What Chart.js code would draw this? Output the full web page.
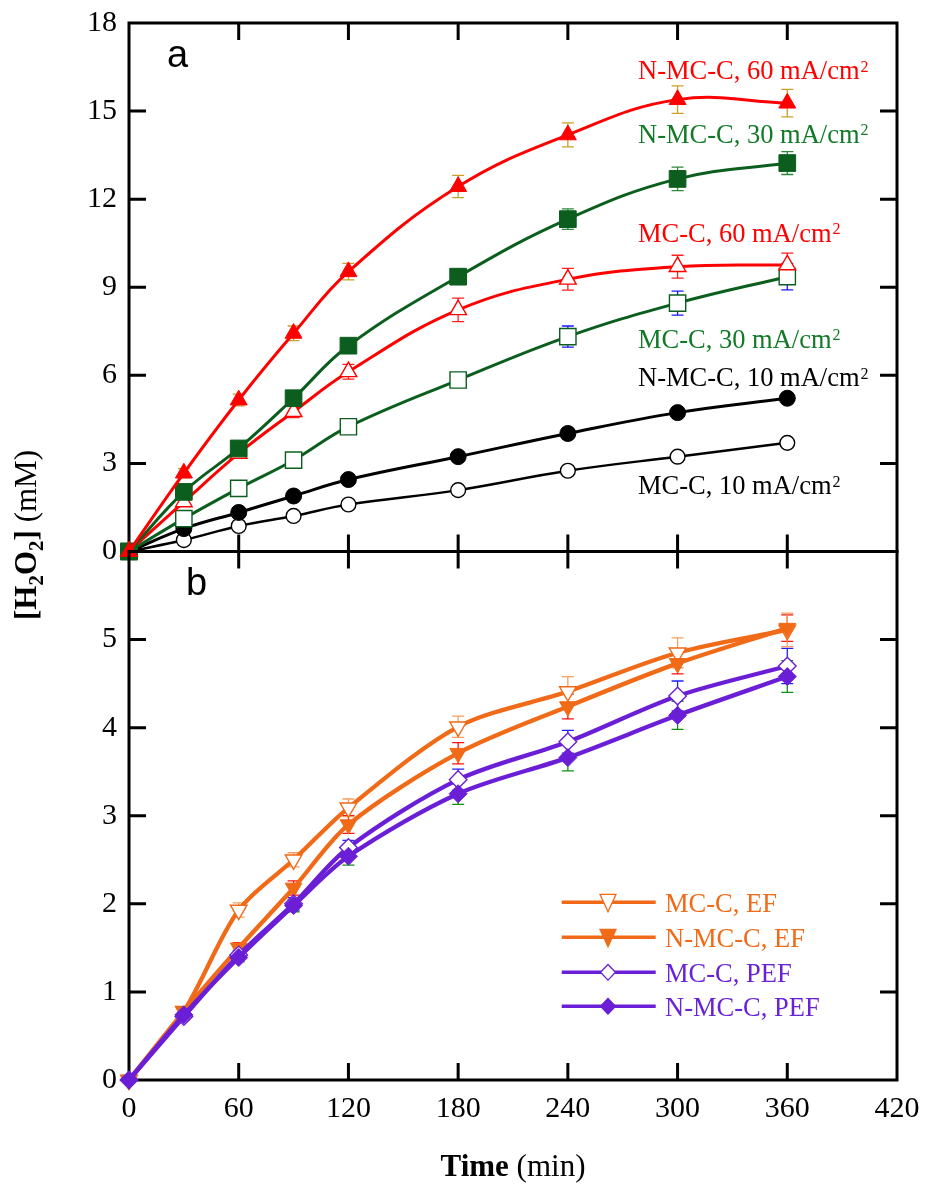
<!DOCTYPE html>
<html><head><meta charset="utf-8">
<script src="https://cdn.jsdelivr.net/npm/chart.js@4.4.0/dist/chart.umd.min.js"></script>
<style>
html,body{margin:0;padding:0;background:#fff;}
#wrap{position:relative;width:925px;height:1188px;background:#fff;}
canvas{position:absolute;left:0;top:0;}
</style></head><body>
<div id="wrap"><canvas id="ca" width="925" height="1188"></canvas><canvas id="cb" width="925" height="1188"></canvas></div>
<script>
// ---------- data ----------
const times = [0, 30, 60, 90, 120, 180, 240, 300, 360];
const xTickValues = [0, 60, 120, 180, 240, 300, 360, 420];
const yTicksA = [0, 3, 6, 9, 12, 15, 18];
const yTicksB = [0, 1, 2, 3, 4, 5];

// panel a  [H2O2] (mM)
const nmcc60 = [0, 2.67, 5.16, 7.43, 9.53, 12.43, 14.19, 15.39, 15.27];
const nmcc30 = [0, 2.03, 3.51, 5.22, 7.01, 9.36, 11.32, 12.69, 13.23];
const mcc60  = [0, 1.69, 3.34, 4.76, 6.12, 8.23, 9.27, 9.70, 9.76];
const mcc30  = [0, 1.12, 2.15, 3.11, 4.25, 5.84, 7.32, 8.46, 9.36];
const nmcc10 = [0, 0.78, 1.33, 1.89, 2.45, 3.23, 4.02, 4.73, 5.22];
const mcc10  = [0, 0.39, 0.87, 1.21, 1.60, 2.09, 2.75, 3.23, 3.70];
const errNmcc60 = [0, 0.15, 0.2, 0.25, 0.28, 0.38, 0.41, 0.47, 0.47];
const errNmcc30 = [0, 0.1, 0.1, 0.15, 0.15, 0.25, 0.35, 0.4, 0.39];
const errMcc60  = [0, 0.1, 0.15, 0.2, 0.25, 0.4, 0.37, 0.39, 0.4];
const errMcc30  = [0, 0.05, 0.1, 0.1, 0.12, 0.15, 0.36, 0.41, 0.45];
const errNmcc10 = [0, 0.05, 0.05, 0.05, 0.05, 0.08, 0.1, 0.1, 0.12];
const errMcc10  = [0, 0.03, 0.03, 0.03, 0.03, 0.05, 0.05, 0.06, 0.06];

// panel b
const mccEF   = [0, 0.78, 1.93, 2.50, 3.09, 4.01, 4.41, 4.85, 5.11];
const nmccEF  = [0, 0.78, 1.50, 2.18, 2.90, 3.71, 4.24, 4.73, 5.13];
const mccPEF  = [0, 0.72, 1.42, 2.00, 2.64, 3.41, 3.84, 4.36, 4.70];
const nmccPEF = [0, 0.74, 1.39, 1.98, 2.54, 3.25, 3.66, 4.14, 4.58];
const errMccEF   = [0, 0.05, 0.08, 0.08, 0.1, 0.12, 0.17, 0.17, 0.19];
const errNmccEF  = [0, 0.05, 0.06, 0.08, 0.1, 0.12, 0.14, 0.12, 0.15];
const errMccPEF  = [0, 0.04, 0.05, 0.07, 0.08, 0.12, 0.13, 0.17, 0.2];
const errNmccPEF = [0, 0.04, 0.05, 0.07, 0.1, 0.12, 0.15, 0.16, 0.18];

const labelsA = ['N-MC-C, 60 mA/cm', 'N-MC-C, 30 mA/cm', 'MC-C, 60 mA/cm', 'MC-C, 30 mA/cm', 'N-MC-C, 10 mA/cm', 'MC-C, 10 mA/cm'];
const labelsB = ['MC-C, EF', 'N-MC-C, EF', 'MC-C, PEF', 'N-MC-C, PEF'];

// ---------- styling / layout ----------
const RED = '#ff0000', GREEN = '#0b5e1e', BLACK = '#000000', ORANGE = '#f06a17', PURPLE = '#6a1fd6';
const SERIF = "'Liberation Serif', 'Times New Roman', serif";
const SANS = "'Liberation Sans', Arial, sans-serif";
const L = 129, R = 897, TOP_A = 23, MID = 551.5, BOT_B = 1080, W = 925, H = 1188;

function ds(label, vals, errs, color, errColor, style, filled, radius, lw, rot, tension) {
  return {
    label, data: times.map((t, i) => ({x: t, y: vals[i]})),
    errs, errColor,
    borderColor: color, backgroundColor: color, borderWidth: lw,
    pointStyle: style, pointRadius: radius, pointHoverRadius: radius,
    pointBackgroundColor: filled ? color : '#ffffff', pointBorderColor: color,
    pointBorderWidth: filled ? 1 : 1.4, pointRotation: rot || 0,
    tension: tension, clip: false, fill: false
  };
}

function noPad(s) { s.paddingTop = 0; s.paddingBottom = 0; s.paddingLeft = 0; s.paddingRight = 0; }

function drawFrame(chart) {
  const ctx = chart.ctx, a = chart.chartArea, xs = chart.scales.x, ys = chart.scales.y;
  ctx.save();
  ctx.strokeStyle = '#000'; ctx.lineWidth = 3; ctx.lineCap = 'butt';
  ctx.strokeRect(a.left, a.top, a.right - a.left, a.bottom - a.top);
  ctx.beginPath();
  xTickValues.forEach(v => {
    if (v <= xs.min || v >= xs.max) return;
    const p = xs.getPixelForValue(v);
    ctx.moveTo(p, a.top); ctx.lineTo(p, a.top + 17);
    ctx.moveTo(p, a.bottom); ctx.lineTo(p, a.bottom - 17);
  });
  ys.ticks.forEach(t => {
    if (t.value <= ys.min || t.value >= ys.max) return;
    const p = ys.getPixelForValue(t.value);
    ctx.moveTo(a.left, p); ctx.lineTo(a.left + 17, p);
    ctx.moveTo(a.right, p); ctx.lineTo(a.right - 17, p);
  });
  ctx.stroke();
  ctx.restore();
}

function drawErrors(chart) {
  const ctx = chart.ctx, xs = chart.scales.x, ys = chart.scales.y;
  ctx.save(); ctx.lineWidth = 1.3;
  chart.data.datasets.forEach(d => {
    if (!d.errs) return;
    ctx.strokeStyle = d.errColor;
    ctx.beginPath();
    d.data.forEach((pt, i) => {
      const e = d.errs[i]; if (!e) return;
      const px = xs.getPixelForValue(pt.x);
      const y1 = ys.getPixelForValue(pt.y + e), y2 = ys.getPixelForValue(pt.y - e);
      ctx.moveTo(px, y1); ctx.lineTo(px, y2);
      ctx.moveTo(px - 6, y1); ctx.lineTo(px + 6, y1);
      ctx.moveTo(px - 6, y2); ctx.lineTo(px + 6, y2);
    });
    ctx.stroke();
  });
  ctx.restore();
}

const decoA = {
  id: 'decoA',
  beforeDatasetsDraw(chart) { drawFrame(chart); drawErrors(chart); },
  afterDatasetsDraw(chart) {
    const ctx = chart.ctx;
    ctx.save();
    ctx.textBaseline = 'alphabetic'; ctx.textAlign = 'left';
    ctx.font = '38px ' + SANS; ctx.fillStyle = '#000';
    ctx.fillText('a', 167, 67);
    const notes = [
      [labelsA[0], RED, 638, 79],
      [labelsA[1], '#127a27', 638, 142.7],
      [labelsA[2], RED, 638, 241.7],
      [labelsA[3], '#127a27', 638, 347.7],
      [labelsA[4], '#000', 638, 386],
      [labelsA[5], '#000', 638, 494.3]
    ];
    notes.forEach(n => {
      ctx.fillStyle = n[1];
      ctx.font = '26.5px ' + SERIF;
      ctx.fillText(n[0], n[2], n[3]);
      const w = ctx.measureText(n[0]).width;
      ctx.font = '16px ' + SERIF;
      ctx.fillText('2', n[2] + w + 1, n[3] - 7.5);
    });
    ctx.restore();
  }
};

function legendMarker(ctx, kind, color, x, y) {
  ctx.save();
  ctx.lineWidth = 1.3; ctx.strokeStyle = color;
  ctx.fillStyle = (kind === 'triOpen' || kind === 'diaOpen') ? '#fff' : color;
  ctx.beginPath();
  if (kind.startsWith('tri')) {
    ctx.moveTo(x - 8, y - 8); ctx.lineTo(x + 8, y - 8); ctx.lineTo(x, y + 9.5); ctx.closePath();
  } else {
    ctx.moveTo(x, y - 7.8); ctx.lineTo(x + 7.5, y); ctx.lineTo(x, y + 7.8); ctx.lineTo(x - 7.5, y); ctx.closePath();
  }
  ctx.fill(); ctx.stroke();
  ctx.restore();
}

const decoB = {
  id: 'decoB',
  beforeDatasetsDraw(chart) { drawFrame(chart); drawErrors(chart); },
  afterDatasetsDraw(chart) {
    const ctx = chart.ctx, a = chart.chartArea;
    ctx.save();
    ctx.textBaseline = 'alphabetic'; ctx.textAlign = 'left';
    ctx.font = '38px ' + SANS; ctx.fillStyle = '#000';
    ctx.fillText('b', 186, 595);
    // legend
    const rows = [
      [labelsB[0], ORANGE, '#f06a17', 'triOpen', 902.3],
      [labelsB[1], ORANGE, '#f06a17', 'triFill', 937.3],
      [labelsB[2], PURPLE, '#6a22d6', 'diaOpen', 972.3],
      [labelsB[3], PURPLE, '#6a22d6', 'diaFill', 1006.3]
    ];
    ctx.font = '26.5px ' + SERIF;
    rows.forEach(r => {
      ctx.strokeStyle = r[1]; ctx.lineWidth = 3.5;
      ctx.beginPath(); ctx.moveTo(561.7, r[4]); ctx.lineTo(655.7, r[4]); ctx.stroke();
      legendMarker(ctx, r[3], r[1], 608, r[4]);
      ctx.fillStyle = r[2]; ctx.fillText(r[0], 665, r[4] + 9.4);
    });
    // y-axis title (rotated, mixed bold/normal with subscripts)
    const parts = [
      ['[H', 'bold 31px ' + SERIF, 0], ['2', 'bold 21px ' + SERIF, 7], ['O', 'bold 31px ' + SERIF, 0],
      ['2', 'bold 21px ' + SERIF, 7], [']', 'bold 31px ' + SERIF, 0], [' (mM)', '31px ' + SERIF, 0]
    ];
    let total = 0;
    parts.forEach(p => { ctx.font = p[1]; total += ctx.measureText(p[0]).width; });
    ctx.translate(36, 535); ctx.rotate(-Math.PI / 2);
    ctx.fillStyle = '#000';
    let cx = -total / 2;
    parts.forEach(p => { ctx.font = p[1]; ctx.fillText(p[0], cx, p[2]); cx += ctx.measureText(p[0]).width; });
    ctx.setTransform(1, 0, 0, 1, 0, 0);
    // x-axis title
    const xp = [['Time', 'bold 31px ' + SERIF], [' (min)', '31px ' + SERIF]];
    let tw = 0;
    xp.forEach(p => { ctx.font = p[1]; tw += ctx.measureText(p[0]).width; });
    let xx = (a.left + a.right) / 2 - tw / 2;
    xp.forEach(p => { ctx.font = p[1]; ctx.fillText(p[0], xx, 1176); xx += ctx.measureText(p[0]).width; });
    ctx.restore();
  }
};

Chart.defaults.font.family = SERIF;
Chart.defaults.color = '#000';

const commonPlugins = { legend: {display: false}, tooltip: {enabled: false} };

new Chart(document.getElementById('ca'), {
  type: 'line',
  data: { datasets: [
    ds(labelsA[0] + '²', nmcc60, errNmcc60, RED, '#c9a02a', 'triangle', true, 9.8, 3, 0, 0.4),
    ds(labelsA[1] + '²', nmcc30, errNmcc30, GREEN, '#2e8a3a', 'rect', true, 11.8, 3, 0, 0.4),
    ds(labelsA[2] + '²', mcc60, errMcc60, RED, '#ff2020', 'triangle', false, 9.6, 3, 0, 0.4),
    ds(labelsA[3] + '²', mcc30, errMcc30, GREEN, '#1a1aff', 'rect', false, 11.5, 3, 0, 0.4),
    ds(labelsA[4] + '²', nmcc10, errNmcc10, BLACK, '#f08a20', 'circle', true, 8, 3, 0, 0.4),
    ds(labelsA[5] + '²', mcc10, errMcc10, BLACK, '#9a60d0', 'circle', false, 7.4, 2.5, 0, 0.4)
  ]},
  options: {
    responsive: false, animation: false, devicePixelRatio: 1,
    layout: { padding: {left: 0, right: W - R, top: TOP_A, bottom: H - MID} },
    plugins: commonPlugins,
    scales: {
      x: { type: 'linear', min: 0, max: 420, display: false },
      y: { type: 'linear', min: 0, max: 18,
        afterBuildTicks: s => { s.ticks = yTicksA.map(v => ({value: v})); },
        ticks: { font: {family: SERIF, size: 30}, color: '#000', padding: 12 },
        grid: { display: false, drawTicks: false }, border: { display: false },
        afterFit: s => { s.width = L; noPad(s); } }
    }
  },
  plugins: [decoA]
});

new Chart(document.getElementById('cb'), {
  type: 'line',
  data: { datasets: [
    ds(labelsB[3], nmccPEF, errNmccPEF, PURPLE, '#119011', 'rectRot', true, 9, 4.3, 0, 0.3),
    ds(labelsB[2], mccPEF, errMccPEF, PURPLE, '#2020ff', 'rectRot', false, 8.8, 4.3, 0, 0.3),
    ds(labelsB[1], nmccEF, errNmccEF, ORANGE, '#ff1010', 'triangle', true, 9.6, 4.3, 180, 0.3),
    ds(labelsB[0], mccEF, errMccEF, ORANGE, '#f5a060', 'triangle', false, 9.6, 4.3, 180, 0.3)
  ]},
  options: {
    responsive: false, animation: false, devicePixelRatio: 1,
    layout: { padding: {left: 0, right: W - R, top: MID, bottom: 0} },
    plugins: commonPlugins,
    scales: {
      x: { type: 'linear', min: 0, max: 420, position: 'bottom',
        afterBuildTicks: s => { s.ticks = xTickValues.map(v => ({value: v})); },
        ticks: { font: {family: SERIF, size: 30}, color: '#000', padding: 11, maxRotation: 0, autoSkip: false },
        grid: { display: false, drawTicks: false }, border: { display: false },
        afterFit: s => { s.height = H - BOT_B; noPad(s); } },
      y: { type: 'linear', min: 0, max: 6,
        afterBuildTicks: s => { s.ticks = [...yTicksB, 6].map(v => ({value: v})); },
        ticks: { font: {family: SERIF, size: 30}, color: '#000', padding: 12,
          callback: v => (yTicksB.includes(v) ? String(v) : '') },
        grid: { display: false, drawTicks: false }, border: { display: false },
        afterFit: s => { s.width = L; noPad(s); } }
    }
  },
  plugins: [decoB]
});
</script>
</body></html>
